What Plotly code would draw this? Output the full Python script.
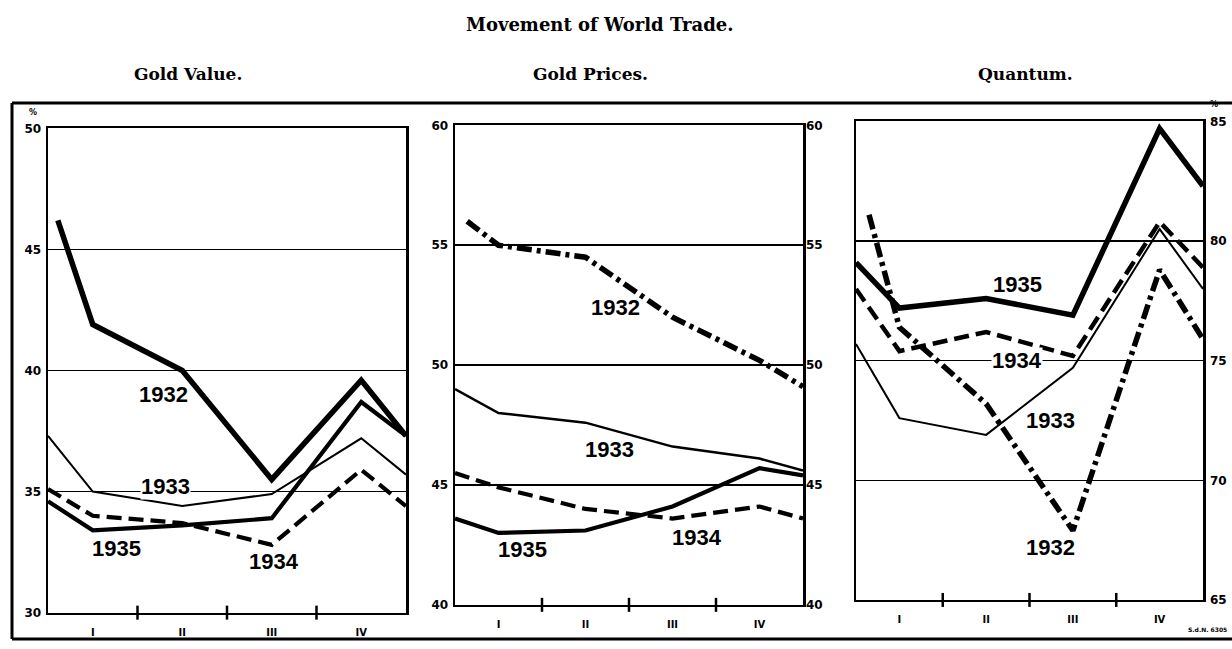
import plotly.graph_objects as go

W, H = 1232, 649

# ---------------- data ----------------
quarters = ["I", "II", "III", "IV"]
quarter_x = [0.5, 1.5, 2.5, 3.5]
x_points = [0, 0.5, 1.5, 2.5, 3.5, 4]          # left edge, quarters I-IV, right edge
x_points_1932_value = [0.11, 0.5, 1.5, 2.5, 3.5, 4]
x_points_1932_prices = [0.14, 0.5, 1.5, 2.5, 3.5, 4]
x_points_1932_quantum = [0.15, 0.5, 1.5, 2.5, 3.5, 4]

value_1932 = [46.2, 41.9, 40.0, 35.5, 39.6, 37.3]
value_1933 = [37.3, 35.0, 34.4, 34.9, 37.2, 35.7]
value_1934 = [35.1, 34.0, 33.7, 32.8, 35.9, 34.4]
value_1935 = [34.6, 33.4, 33.6, 33.9, 38.7, 37.3]

prices_1932 = [56.0, 55.0, 54.5, 52.0, 50.2, 49.1]
prices_1933 = [49.0, 48.0, 47.6, 46.6, 46.1, 45.6]
prices_1934 = [45.5, 44.9, 44.0, 43.6, 44.1, 43.6]
prices_1935 = [43.6, 43.0, 43.1, 44.1, 45.7, 45.4]

quantum_1932 = [81.1, 76.4, 73.2, 67.9, 78.8, 75.9]
quantum_1933 = [75.7, 72.6, 71.9, 74.7, 80.5, 78.0]
quantum_1934 = [78.0, 75.4, 76.2, 75.2, 80.8, 78.9]
quantum_1935 = [79.1, 77.2, 77.6, 76.9, 84.7, 82.3]

value_ticks = [30, 35, 40, 45, 50]
prices_ticks = [40, 45, 50, 55, 60]
quantum_ticks = [65, 70, 75, 80, 85]

title_text = "Movement of World Trade."
panel_titles = ["Gold Value.", "Gold Prices.", "Quantum."]

# ---------------- styles / layout ----------------
def px_x(p):
    return p / W

def px_y(p):
    return 1 - p / H

dom_x = [[px_x(48), px_x(406)], [px_x(455), px_x(803)], [px_x(856), px_x(1203)]]
dom_y = [[px_y(619), px_y(124)], [px_y(611), px_y(121)], [px_y(606), px_y(117)]]

THICK = 5.5
MED = 4.2
THIN = 2
DASH = "15px,7px"
DASHDOT = "15px,5px,4px,5px"

fig = go.Figure()

panels = [
    dict(xa="x", ya="y", series=[
        (x_points_1932_value, value_1932, THICK, "solid"),
        (x_points, value_1933, THIN, "solid"),
        (x_points, value_1934, MED, DASH),
        (x_points, value_1935, MED, "solid"),
    ]),
    dict(xa="x2", ya="y2", series=[
        (x_points_1932_prices, prices_1932, THICK, DASHDOT),
        (x_points, prices_1933, 2.5, "solid"),
        (x_points, prices_1934, MED, DASH),
        (x_points, prices_1935, MED, "solid"),
    ]),
    dict(xa="x3", ya="y3", series=[
        (x_points_1932_quantum, quantum_1932, THICK, DASHDOT),
        (x_points, quantum_1933, THIN, "solid"),
        (x_points, quantum_1934, 4.5, DASH),
        (x_points, quantum_1935, THICK, "solid"),
    ]),
]

for p in panels:
    for xs, ys, w, d in p["series"]:
        fig.add_trace(go.Scatter(
            x=xs, y=ys, mode="lines", xaxis=p["xa"], yaxis=p["ya"],
            line=dict(color="black", width=w, dash=d),
            hoverinfo="skip", showlegend=False,
        ))

tickfont = dict(family="DejaVu Sans", size=12, color="black", weight="bold")
xfont = dict(family="DejaVu Sans", size=10, color="black", weight="bold")

def xaxis_cfg(i):
    return dict(
        domain=dom_x[i], range=[0, 4], anchor=["y", "y2", "y3"][i],
        tickvals=quarter_x, ticktext=quarters, ticks="",
        showgrid=False, zeroline=False, showline=True, mirror=True,
        linecolor="black", linewidth=2.5, tickfont=xfont,
        ticklabelstandoff=9, fixedrange=True,
    )

def yaxis_cfg(i, rng, ticks, side, showlabels=True):
    return dict(
        domain=dom_y[i], range=rng, anchor=["x", "x2", "x3"][i],
        tickvals=ticks, ticktext=[str(t) for t in ticks], ticks="",
        showgrid=True, gridcolor="black", gridwidth=1.5,
        zeroline=False, showline=True, mirror=True,
        linecolor="black", linewidth=2.5, side=side,
        showticklabels=showlabels, tickfont=tickfont,
        ticklabelstandoff=2, fixedrange=True,
    )

fig.update_layout(
    width=W, height=H,
    margin=dict(l=0, r=0, t=0, b=0),
    paper_bgcolor="white", plot_bgcolor="white",
    showlegend=False,
    xaxis=xaxis_cfg(0), xaxis2=xaxis_cfg(1), xaxis3=xaxis_cfg(2),
    yaxis=yaxis_cfg(0, [30, 50], value_ticks, "left"),
    yaxis2=yaxis_cfg(1, [40, 60], prices_ticks, "left"),
    yaxis3=yaxis_cfg(2, [65, 85], quantum_ticks, "right"),
    yaxis4=dict(
        domain=dom_y[1], range=[40, 60], anchor="x2", overlaying="y2",
        side="right", tickvals=prices_ticks, ticktext=[str(t) for t in prices_ticks],
        ticks="", showgrid=False, zeroline=False, showline=False,
        tickfont=tickfont, ticklabelstandoff=2, fixedrange=True,
    ),
)

# invisible trace to keep right-hand price axis alive
fig.add_trace(go.Scatter(x=[x_points[0]], y=[prices_ticks[0]], xaxis="x2", yaxis="y4",
                         mode="markers", marker=dict(opacity=0), hoverinfo="skip",
                         showlegend=False))

# x-axis boundary ticks crossing the axis (paper-referenced so they are not clipped)
for i, xa in enumerate(["x", "x2", "x3"]):
    for b in [1, 2, 3]:
        fig.add_shape(type="line", xref=xa, yref="paper", x0=b, x1=b,
                      ysizemode="pixel", yanchor=dom_y[i][0], y0=-7, y1=7,
                      line=dict(color="black", width=2.5))

# year labels on the lines
label_font = dict(family="Liberation Sans", size=22, color="black", weight="bold")
labels = [
    ("x", "y", 1.29, 39.0, "1932", False),
    ("x", "y", 1.31, 35.2, "1933", True),
    ("x", "y", 0.77, 32.66, "1935", False),
    ("x", "y", 2.52, 32.1, "1934", False),
    ("x2", "y2", 1.84, 52.4, "1932", False),
    ("x2", "y2", 1.78, 46.5, "1933", False),
    ("x2", "y2", 0.78, 42.3, "1935", False),
    ("x2", "y2", 2.78, 42.8, "1934", False),
    ("x3", "y3", 1.86, 78.2, "1935", False),
    ("x3", "y3", 1.86, 75.0, "1934", True),
    ("x3", "y3", 2.24, 72.5, "1933", False),
    ("x3", "y3", 2.24, 67.2, "1932", False),
]
for xa, ya, lx, ly, txt, bg in labels:
    fig.add_annotation(x=lx, y=ly, xref=xa, yref=ya, text=txt, showarrow=False,
                       xanchor="center", yanchor="middle",
                       font=label_font, bgcolor="white" if bg else "rgba(0,0,0,0)",
                       borderpad=0)

# titles
tfont = dict(family="DejaVu Serif", size=18, color="black", weight="bold")
sfont = dict(family="DejaVu Serif", size=17, color="black", weight="bold")
fig.add_annotation(x=px_x(600), y=px_y(18), xref="paper", yref="paper",
                   xanchor="center", yanchor="middle",
                   text=title_text, showarrow=False, font=tfont)
for cx, t in zip([188, 590, 1025], panel_titles):
    fig.add_annotation(x=px_x(cx), y=px_y(68), xref="paper", yref="paper",
                       xanchor="center", yanchor="middle",
                       text=t, showarrow=False, font=sfont)

# % marks
small = dict(family="DejaVu Sans", size=8, color="black", weight="bold")
fig.add_annotation(x=px_x(33), y=px_y(108), xref="paper", yref="paper",
                   xanchor="center", yanchor="middle",
                   text="%", showarrow=False, font=small)
fig.add_annotation(x=px_x(1214), y=px_y(100), xref="paper", yref="paper",
                   xanchor="center", yanchor="middle",
                   text="%", showarrow=False, font=small)
fig.add_annotation(x=px_x(1229), y=px_y(636), xref="paper", yref="paper",
                   xanchor="right", yanchor="middle",
                   text="S.d.N. 6305", showarrow=False,
                   font=dict(family="DejaVu Sans", size=6, color="black", weight="bold"))

# outer frame (top, left, bottom)
frame = dict(color="black", width=3)
fig.add_shape(type="line", xref="paper", yref="paper",
              x0=px_x(12), x1=1, y0=px_y(98), y1=px_y(98), line=frame)
fig.add_shape(type="line", xref="paper", yref="paper",
              x0=px_x(12), x1=px_x(12), y0=px_y(98), y1=px_y(646), line=frame)
fig.add_shape(type="line", xref="paper", yref="paper",
              x0=px_x(12), x1=1, y0=px_y(646), y1=px_y(646), line=frame)

fig.write_html("out.html",
               config={"displayModeBar": False, "staticPlot": True},
               post_script="document.body.style.margin='0px';document.body.style.overflow='hidden';")
